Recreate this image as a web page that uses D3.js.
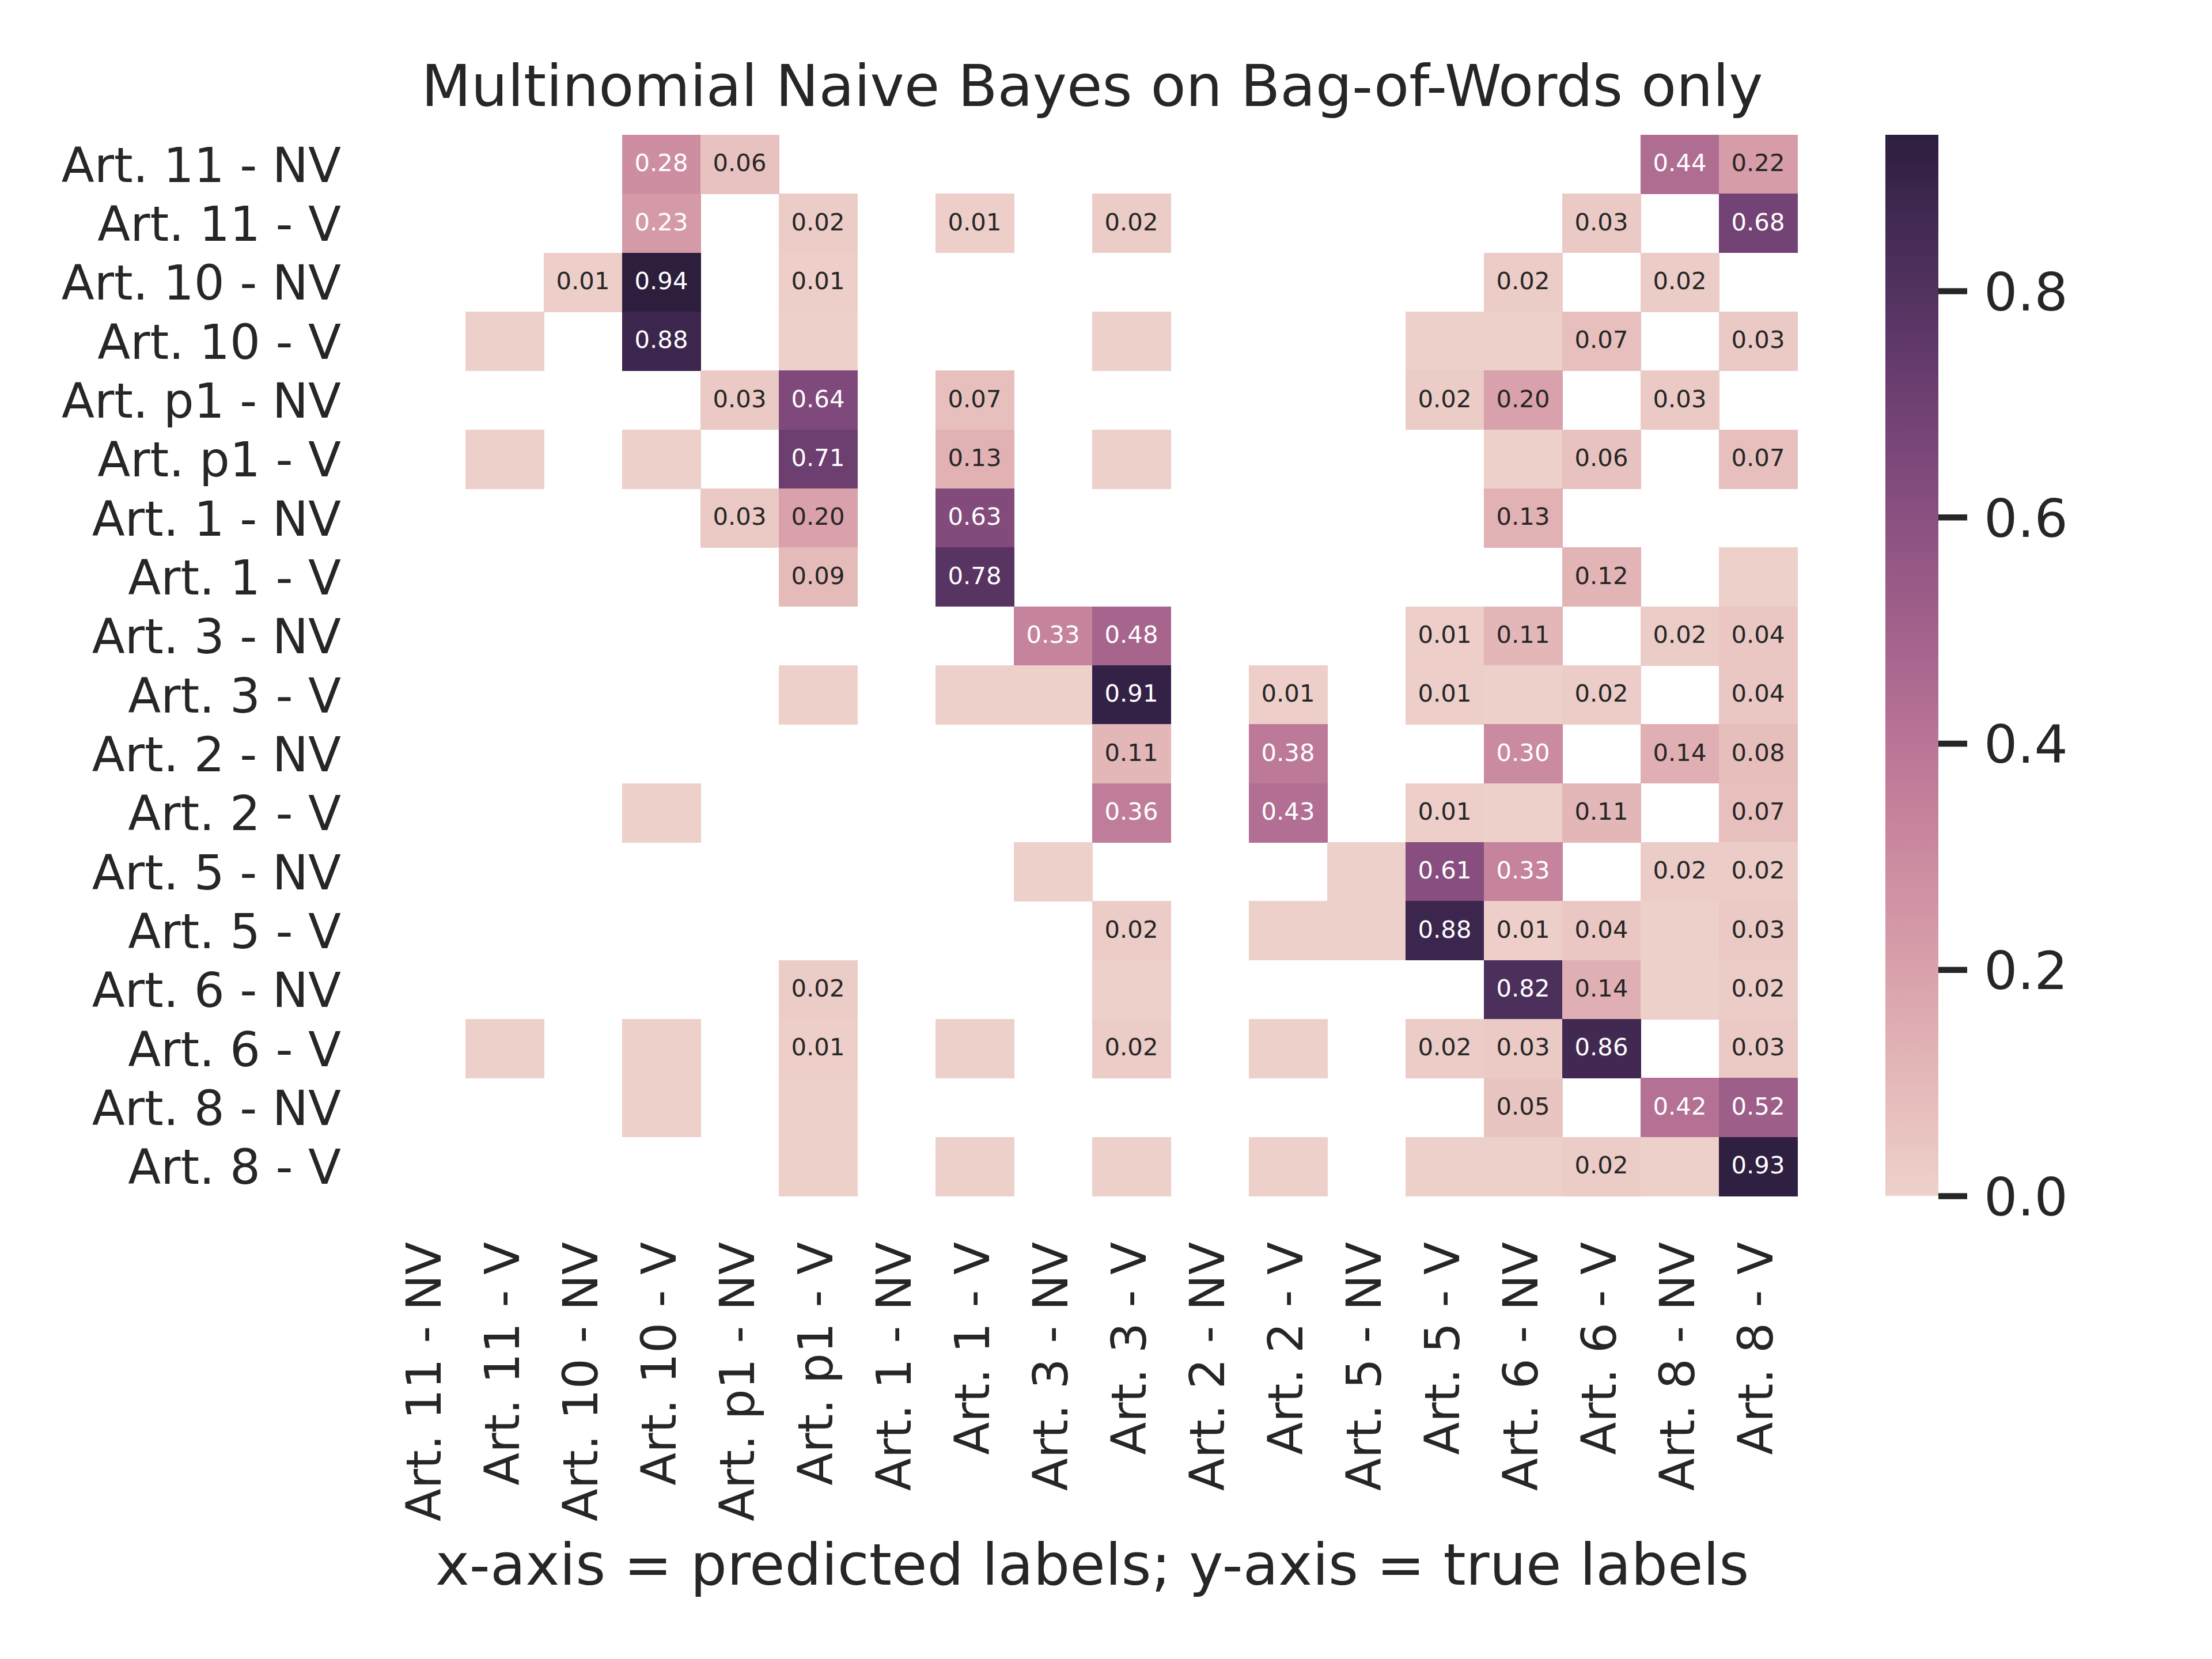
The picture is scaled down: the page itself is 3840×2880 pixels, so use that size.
<!DOCTYPE html>
<html>
<head>
<meta charset="utf-8">
<script src="https://cdn.jsdelivr.net/npm/d3@7/dist/d3.min.js"></script>
<style>
  html, body { margin: 0; padding: 0; background: #ffffff; }
  svg { display: block; font-family: "DejaVu Sans", "Liberation Sans", sans-serif; }
</style>
</head>
<body>
<svg id="chart" width="3840" height="2880"></svg>
<script>
// ---------------- DATA ----------------
const labels = [
  "Art. 11 - NV", "Art. 11 - V", "Art. 10 - NV", "Art. 10 - V",
  "Art. p1 - NV", "Art. p1 - V", "Art. 1 - NV", "Art. 1 - V",
  "Art. 3 - NV", "Art. 3 - V", "Art. 2 - NV", "Art. 2 - V",
  "Art. 5 - NV", "Art. 5 - V", "Art. 6 - NV", "Art. 6 - V",
  "Art. 8 - NV", "Art. 8 - V"
];

// rows = true labels, columns = predicted labels (same order as labels)
// 0 = empty cell, 0.004 = tiny non-zero share (coloured, no annotation)
const confusion = [
  [0, 0, 0, .28, .06, 0, 0, 0, 0, 0, 0, 0, 0, 0, 0, 0, .44, .22],
  [0, 0, 0, .23, 0, .02, 0, .01, 0, .02, 0, 0, 0, 0, 0, .03, 0, .68],
  [0, 0, .01, .938, 0, .01, 0, 0, 0, 0, 0, 0, 0, 0, .02, 0, .02, 0],
  [0, .004, 0, .88, 0, .004, 0, 0, 0, .004, 0, 0, 0, .004, .004, .07, 0, .03],
  [0, 0, 0, 0, .03, .64, 0, .07, 0, 0, 0, 0, 0, .02, .20, 0, .03, 0],
  [0, .004, 0, .004, 0, .71, 0, .13, 0, .004, 0, 0, 0, 0, .004, .06, 0, .07],
  [0, 0, 0, 0, .03, .20, 0, .63, 0, 0, 0, 0, 0, 0, .13, 0, 0, 0],
  [0, 0, 0, 0, 0, .09, 0, .78, 0, 0, 0, 0, 0, 0, 0, .12, 0, .004],
  [0, 0, 0, 0, 0, 0, 0, 0, .33, .48, 0, 0, 0, .01, .11, 0, .02, .04],
  [0, 0, 0, 0, 0, .004, 0, .004, .004, .91, 0, .01, 0, .01, .004, .02, 0, .04],
  [0, 0, 0, 0, 0, 0, 0, 0, 0, .11, 0, .38, 0, 0, .30, 0, .14, .08],
  [0, 0, 0, .004, 0, 0, 0, 0, 0, .36, 0, .43, 0, .01, .004, .11, 0, .07],
  [0, 0, 0, 0, 0, 0, 0, 0, .004, 0, 0, 0, .004, .61, .33, 0, .02, .02],
  [0, 0, 0, 0, 0, 0, 0, 0, 0, .02, 0, .004, .004, .88, .01, .04, .004, .03],
  [0, 0, 0, 0, 0, .02, 0, 0, 0, .004, 0, 0, 0, 0, .82, .14, .004, .02],
  [0, .004, 0, .004, 0, .01, 0, .004, 0, .02, 0, .004, 0, .02, .03, .86, 0, .03],
  [0, 0, 0, .004, 0, .004, 0, 0, 0, 0, 0, 0, 0, 0, .05, 0, .42, .52],
  [0, 0, 0, 0, 0, .004, 0, .004, 0, .004, 0, .004, 0, .004, .004, .02, .004, .93]
];

const colorbarTicks = [0, 0.2, 0.4, 0.6, 0.8];
const titleText = "Multinomial Naive Bayes on Bag-of-Words only";
const xLabelText = "x-axis = predicted labels; y-axis = true labels";

// ---------------- LAYOUT / STYLE ----------------
const TEXT = "#262626";
const grid = { left: 672, right: 3120, top: 234, bottom: 2076 };
const cbar = { left: 3273, right: 3365 };
const fsTitle = 100, fsTick = 83.3, fsCbTick = 91.7, fsAnnot = 41.7;

// seaborn cubehelix_palette(as_cmap=True) defaults
function cubehelixSeaborn(t) {
  const light = 0.85, dark = 0.15, start = 0, rot = 0.4, gamma = 1, hue = 0.8;
  const x = light + (dark - light) * t;
  const xg = Math.pow(x, gamma);
  const a = hue * xg * (1 - xg) / 2;
  const phi = 2 * Math.PI * (start / 3 + rot * x);
  const c = Math.cos(phi), s = Math.sin(phi);
  const clamp = v => Math.max(0, Math.min(1, v));
  const r = clamp(xg + a * (-0.14861 * c + 1.78277 * s));
  const g = clamp(xg + a * (-0.29227 * c - 0.90649 * s));
  const b = clamp(xg + a * (1.97294 * c));
  return d3.rgb(r * 255, g * 255, b * 255).formatHex();
}

function relLum(hex) {
  const c = d3.rgb(hex);
  const lin = v => { v = v / 255; return v <= 0.03928 ? v / 12.92 : Math.pow((v + 0.055) / 1.055, 2.4); };
  return 0.2126 * lin(c.r) + 0.7152 * lin(c.g) + 0.0722 * lin(c.b);
}

const vmax = d3.max(confusion.flat());
const color = d3.scaleSequential(cubehelixSeaborn).domain([0, vmax]);

const x = d3.scaleBand().domain(labels).range([grid.left, grid.right]).padding(0);
const y = d3.scaleBand().domain(labels).range([grid.top, grid.bottom]).padding(0);
const cbY = d3.scaleLinear().domain([0, vmax]).range([grid.bottom, grid.top]);

const svg = d3.select("#chart");
svg.append("rect").attr("width", 3840).attr("height", 2880).attr("fill", "#ffffff");

// ---------------- CELLS ----------------
const cells = [];
confusion.forEach((row, i) => row.forEach((v, j) => {
  if (v > 0) cells.push({ t: labels[i], p: labels[j], v });
}));

const gCells = svg.append("g");
gCells.selectAll("rect").data(cells).join("rect")
  .attr("x", d => x(d.p))
  .attr("y", d => y(d.t))
  .attr("width", x.bandwidth() + 0.6)
  .attr("height", y.bandwidth() + 0.6)
  .attr("fill", d => color(d.v))
  .attr("shape-rendering", "crispEdges");

const gAnn = svg.append("g");
gAnn.selectAll("text").data(cells.filter(d => d.v >= 0.005)).join("text")
  .attr("x", d => x(d.p) + x.bandwidth() / 2)
  .attr("y", d => y(d.t) + y.bandwidth() / 2 + 12.3)
  .attr("text-anchor", "middle")
  .attr("font-size", fsAnnot)
  .attr("fill", d => relLum(color(d.v)) > 0.408 ? TEXT : "#ffffff")
  .text(d => d3.format(".2f")(d.v));

// ---------------- AXES ----------------
const yAxis = svg.append("g")
  .attr("transform", `translate(${grid.left},0)`)
  .call(d3.axisLeft(y).tickSize(0).tickPadding(80));
yAxis.select(".domain").remove();
yAxis.selectAll("text")
  .attr("font-size", fsTick)
  .attr("font-family", "DejaVu Sans")
  .attr("fill", TEXT)
  .attr("dy", "0.365em");

const xAxis = svg.append("g")
  .attr("transform", `translate(0,${grid.bottom})`)
  .call(d3.axisBottom(x).tickSize(0).tickPadding(0));
xAxis.select(".domain").remove();
xAxis.selectAll("text")
  .attr("font-size", fsTick)
  .attr("font-family", "DejaVu Sans")
  .attr("fill", TEXT)
  .attr("transform", "rotate(-90)")
  .attr("text-anchor", "end")
  .attr("x", -80)
  .attr("y", 0)
  .attr("dy", "0.294em");

// ---------------- COLORBAR ----------------
const defs = svg.append("defs");
const grad = defs.append("linearGradient").attr("id", "cbgrad")
  .attr("x1", 0).attr("y1", 1).attr("x2", 0).attr("y2", 0);
const stops = d3.range(0, 65).map(k => k / 64);
grad.selectAll("stop").data(stops).join("stop")
  .attr("offset", d => d)
  .attr("stop-color", d => color(d * vmax));

svg.append("rect")
  .attr("x", cbar.left)
  .attr("y", cbY(vmax))
  .attr("width", cbar.right - cbar.left)
  .attr("height", cbY(0) - cbY(vmax))
  .attr("fill", "url(#cbgrad)");

const cbAxis = svg.append("g")
  .attr("transform", `translate(${cbar.right},0)`)
  .call(d3.axisRight(cbY).tickValues(colorbarTicks).tickSize(50).tickPadding(29)
        .tickFormat(d3.format(".1f")));
cbAxis.select(".domain").remove();
cbAxis.selectAll("line").attr("stroke", TEXT).attr("stroke-width", 10.4);
cbAxis.selectAll("text")
  .attr("font-size", fsCbTick)
  .attr("font-family", "DejaVu Sans")
  .attr("fill", TEXT)
  .attr("dy", "0.365em");

// ---------------- TITLES ----------------
const cx = (grid.left + grid.right) / 2;
svg.append("text")
  .attr("x", cx).attr("y", 184)
  .attr("text-anchor", "middle")
  .attr("font-size", fsTitle)
  .attr("fill", TEXT)
  .text(titleText);

svg.append("text")
  .attr("x", cx).attr("y", 2751)
  .attr("text-anchor", "middle")
  .attr("font-size", fsTitle)
  .attr("fill", TEXT)
  .text(xLabelText);
</script>
</body>
</html>
